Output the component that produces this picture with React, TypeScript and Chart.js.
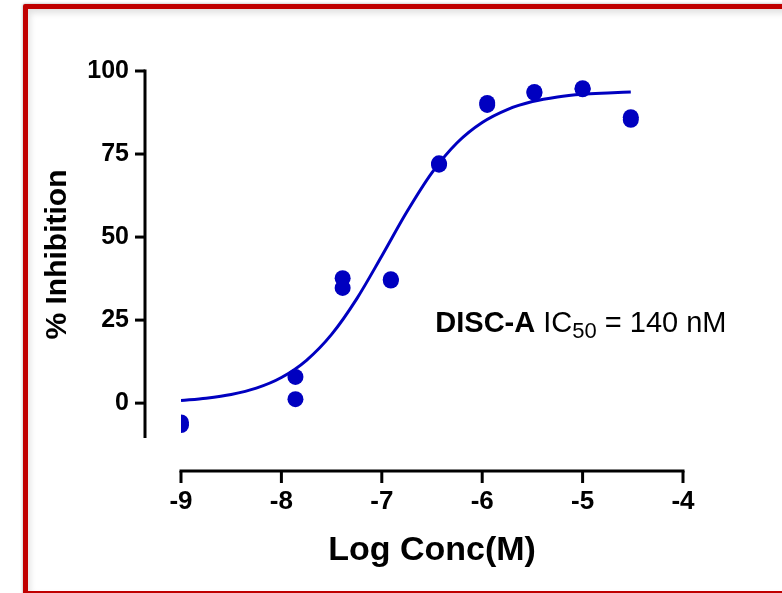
import React, { useEffect, useRef } from "react";
import { Chart, registerables } from "chart.js";

Chart.register(...registerables);

// ---- data ----
const DOSE_LOG_M = [-9, -9, -7.86, -7.86, -7.39, -7.39, -6.91, -6.91, -6.43, -6.43, -5.95, -5.95, -5.48, -5.48, -5.0, -5.0, -4.52, -4.52];
const INHIBITION = [-5.8, -6.6, 7.9, 1.2, 37.6, 34.7, 37.3, 36.9, 72.2, 71.8, 90.4, 89.8, 93.7, 93.4, 94.8, 94.5, 86.1, 85.3];

const FIT_LOG_M = [-9, -8.75, -8.5, -8.25, -8, -7.75, -7.5, -7.25, -7, -6.75, -6.5, -6.25, -6, -5.75, -5.5, -5.25, -5, -4.75, -4.52];
const FIT_INHIBITION = [0.8, 1.5, 2.6, 4.5, 7.7, 12.9, 20.7, 31.4, 44.3, 57.6, 69.4, 78.4, 84.5, 88.4, 90.8, 92.2, 93.0, 93.4, 93.7];

const X_TICKS = [-9, -8, -7, -6, -5, -4];
const Y_TICKS = [0, 25, 50, 75, 100];
const X_RANGE = [-9, -4];
const Y_RANGE = [-10.5, 100];

const X_TITLE = "Log Conc(M)";
const Y_TITLE = "% Inhibition";
const ANNOT_NAME = "DISC-A";
const ANNOT_LABEL = " IC";
const ANNOT_SUB = "50";
const ANNOT_VALUE = " = 140 nM";
const ANNOT_AT = [-6.467, 21.4];

// ---- styling ----
const FONT = '"Liberation Sans", Arial, Helvetica, sans-serif';
const BLUE = "#0000c0";
const Y_AXIS_GAP = 36;
const X_AXIS_GAP = 33;
const Y_TICK_LEN = 10;
const X_TICK_LEN = 12;

const offsetAxes = {
  id: "offsetAxes",
  afterDraw(chart: any) {
    const { ctx, chartArea, scales } = chart;
    const xs = scales.x;
    const ys = scales.y;
    const axX = chartArea.left - Y_AXIS_GAP;
    const axY = chartArea.bottom + X_AXIS_GAP;
    ctx.save();
    ctx.strokeStyle = "#000";
    ctx.lineWidth = 3;
    ctx.lineCap = "butt";
    const seg = (x1: number, y1: number, x2: number, y2: number) => {
      ctx.beginPath();
      ctx.moveTo(x1, y1);
      ctx.lineTo(x2, y2);
      ctx.stroke();
    };
    const yTop = ys.getPixelForValue(Y_RANGE[1]);
    const yBot = ys.getPixelForValue(Y_RANGE[0]);
    seg(axX, yTop - 1.5, axX, yBot);
    ys.ticks.forEach((t: any) => {
      const py = ys.getPixelForValue(t.value);
      seg(axX - Y_TICK_LEN, py, axX, py);
    });
    const xl = xs.getPixelForValue(X_RANGE[0]);
    const xr = xs.getPixelForValue(X_RANGE[1]);
    seg(xl - 1.5, axY, xr + 1.5, axY);
    xs.ticks.forEach((t: any) => {
      const px = xs.getPixelForValue(t.value);
      seg(px, axY, px, axY + X_TICK_LEN);
    });
    ctx.restore();
  },
};

const annotation = {
  id: "icAnnotation",
  afterDatasetsDraw(chart: any) {
    const { ctx, scales } = chart;
    const x0 = scales.x.getPixelForValue(ANNOT_AT[0]);
    const y0 = scales.y.getPixelForValue(ANNOT_AT[1]);
    ctx.save();
    ctx.fillStyle = "#000";
    ctx.textAlign = "left";
    ctx.textBaseline = "alphabetic";
    let x = x0;
    ctx.font = `bold 29px ${FONT}`;
    ctx.fillText(ANNOT_NAME, x, y0);
    x += ctx.measureText(ANNOT_NAME).width;
    ctx.font = `29px ${FONT}`;
    ctx.fillText(ANNOT_LABEL, x, y0);
    x += ctx.measureText(ANNOT_LABEL).width;
    ctx.font = `22px ${FONT}`;
    ctx.fillText(ANNOT_SUB, x, y0 + 6);
    x += ctx.measureText(ANNOT_SUB).width;
    ctx.font = `29px ${FONT}`;
    ctx.fillText(ANNOT_VALUE, x, y0);
    ctx.restore();
  },
};

export default function App() {
  const canvasRef = useRef<HTMLCanvasElement | null>(null);

  useEffect(() => {
    const canvas = canvasRef.current;
    if (!canvas) return;
    const points = DOSE_LOG_M.map((x, i) => ({ x, y: INHIBITION[i] }));
    const fit = FIT_LOG_M.map((x, i) => ({ x, y: FIT_INHIBITION[i] }));
    const chart = new Chart(canvas, {
      type: "scatter",
      data: {
        datasets: [
          {
            label: "fit",
            data: fit,
            showLine: true,
            borderColor: BLUE,
            borderWidth: 3,
            pointRadius: 0,
            cubicInterpolationMode: "monotone",
            fill: false,
            clip: 0,
          } as any,
          {
            label: "DISC-A",
            data: points,
            pointRadius: 8,
            pointBorderWidth: 0,
            backgroundColor: BLUE,
            borderColor: BLUE,
            clip: 0,
          } as any,
        ],
      },
      options: {
        responsive: false,
        devicePixelRatio: 1,
        animation: false,
        layout: { padding: { left: 0, top: 71, right: 99, bottom: 0 } },
        plugins: { legend: { display: false }, tooltip: { enabled: false } },
        scales: {
          x: {
            type: "linear",
            min: X_RANGE[0],
            max: X_RANGE[1],
            bounds: "data",
            afterBuildTicks: (s: any) => {
              s.ticks = X_TICKS.map((v) => ({ value: v }));
            },
            afterFit: (s: any) => {
              s.height = 155;
            },
            grid: { display: false, drawTicks: false },
            border: { display: false },
            ticks: {
              autoSkip: false,
              maxRotation: 0,
              padding: 48.5,
              color: "#000",
              font: { family: FONT, size: 26, weight: "bold" },
              callback: (v: any) => `${v}`,
            },
            title: {
              display: true,
              text: X_TITLE,
              color: "#000",
              font: { family: FONT, size: 34, weight: "bold" },
              padding: { top: 0, bottom: 21.5 },
            },
          },
          y: {
            type: "linear",
            min: Y_RANGE[0],
            max: Y_RANGE[1],
            bounds: "data",
            afterBuildTicks: (s: any) => {
              s.ticks = Y_TICKS.map((v) => ({ value: v }));
            },
            afterFit: (s: any) => {
              s.width = 181;
            },
            grid: { display: false, drawTicks: false },
            border: { display: false },
            ticks: {
              autoSkip: false,
              padding: 52,
              color: "#000",
              font: { family: FONT, size: 25, weight: "bold" },
              callback: (v: any) => `${v}`,
            },
            title: {
              display: true,
              text: Y_TITLE,
              color: "#000",
              font: { family: FONT, size: 30, weight: "bold" },
              padding: { top: 39.5, bottom: 0 },
            },
          },
        },
      } as any,
      plugins: [offsetAxes, annotation],
    });
    return () => chart.destroy();
  }, []);

  return (
    <div
      style={{
        position: "fixed",
        left: 0,
        top: 0,
        width: 782,
        height: 593,
        overflow: "hidden",
        background: "#fff",
      }}
    >
      <div
        style={{
          position: "absolute",
          left: 23,
          top: 4,
          width: 800,
          height: 592,
          boxSizing: "border-box",
          border: "5px solid #c00000",
          borderRadius: 2,
          boxShadow: "0 0 3px rgba(0,0,0,0.35), inset 2px 4px 6px rgba(0,0,0,0.12)",
          background: "#fff",
        }}
      />
      <canvas
        ref={canvasRef}
        width={782}
        height={593}
        style={{ position: "absolute", left: 0, top: 0, width: 782, height: 593, display: "block" }}
      />
    </div>
  );
}
